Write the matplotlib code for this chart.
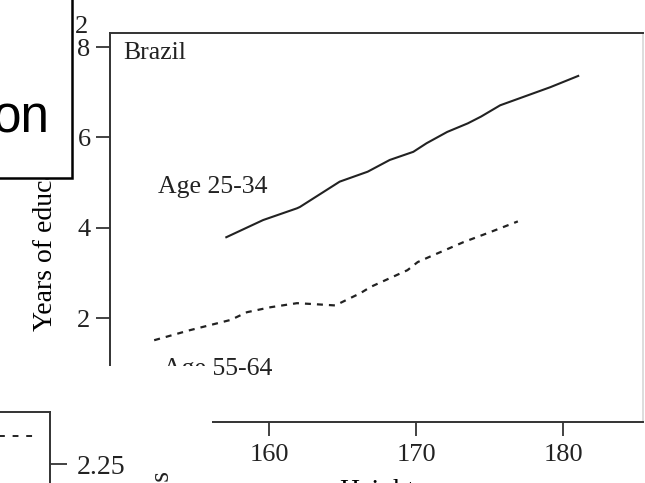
import matplotlib
matplotlib.use('Agg')
import matplotlib.pyplot as plt
from matplotlib.patches import Rectangle

plt.rcParams['font.family'] = 'Liberation Serif'

W, H = 645, 483

# Brazil panel: years of education by height
young_height = [157.1, 159.6, 161.9, 162.1, 164.8, 166.7, 168.2, 169.8, 170.7,
                172.1, 173.5, 174.4, 175.7, 179.1, 181.0]
young_educ = [3.79, 4.17, 4.43, 4.46, 5.02, 5.24, 5.50, 5.68, 5.87,
              6.12, 6.31, 6.46, 6.71, 7.11, 7.36]
old_height = [152.2, 154.6, 157.4, 158.5, 160.1, 161.9, 163.0, 164.5, 165.5,
              166.2, 166.9, 169.4, 170.1, 171.0, 173.2, 175.0, 176.9]
old_educ = [1.51, 1.73, 1.96, 2.13, 2.24, 2.33, 2.31, 2.28, 2.44,
            2.55, 2.69, 3.06, 3.24, 3.37, 3.68, 3.90, 4.14]
height_ticks = [160, 170, 180]
educ_ticks = [2, 4, 6, 8]

# scraps of the neighbouring panel that peek in at the bottom left
side_x = [7.0, 9.2]
side_y = [2.33, 2.33]
side_ticks = [2.25]

ink = '#222222'


def px(x0, y0, x1, y1):
    # pixel box (origin top left) -> figure fraction rect
    return [x0 / W, 1 - y1 / H, (x1 - x0) / W, (y1 - y0) / H]


fig = plt.figure(figsize=(W / 100, H / 100), dpi=100)

ax = fig.add_axes(px(110, 33, 643, 422))
ax.plot(young_height, young_educ, color=ink, lw=1.5)
ax.plot(old_height, old_educ, color=ink, lw=1.6, ls=(0, (2.7, 2.7)))
ax.set_xlim(149.2, 185.4)
ax.set_ylim(-0.3, 8.31)
ax.set_xticks(height_ticks)
ax.set_yticks(educ_ticks)
ax.tick_params(direction='out', length=10, width=1.2, labelsize=19, colors=ink)
ax.tick_params(axis='x', pad=6)
ax.tick_params(axis='y', pad=4)
for s in ax.spines.values():
    s.set_color('#333333')
    s.set_linewidth(1.4)
ax.spines['right'].set_color('#dddddd')
ax.set_xlabel('Height', fontsize=20, labelpad=9)
ax.set_ylabel('Years of education', fontsize=20, labelpad=14)
ax.text(150.07, 7.87, 'Brazil', fontsize=18.5, va='center', color=ink)
ax.text(152.45, 4.77, 'Age 25-34', fontsize=18.5, va='baseline', color=ink)
ax.text(152.79, 0.74, 'Age 55-64', fontsize=18.5, va='baseline', color=ink)

# white paper over the lower left corner
fig.add_artist(Rectangle((0, 0), 212 / W, (H - 366) / H, transform=fig.transFigure,
                         facecolor='white', edgecolor='none', zorder=2))

side = fig.add_axes(px(-150, 412, 50, 551), zorder=3)
side.plot(side_x, side_y, color=ink, lw=1.4, ls=(0, (3, 4)))
side.set_xlim(0, 10)
side.set_ylim(2.0, 2.4)
side.set_xticks([])
side.set_yticks(side_ticks)
side.set_yticklabels(['2.25'])
side.yaxis.tick_right()
side.tick_params(direction='out', length=12, width=1.2, labelsize=20, pad=7, colors=ink)
side.spines['left'].set_visible(False)
side.spines['bottom'].set_visible(False)
for s in ['top', 'right']:
    side.spines[s].set_color('#333333')
    side.spines[s].set_linewidth(1.4)
fig.text(162 / W, 1 - 470 / H, 'Years', rotation=90, ha='center', va='top',
         fontsize=20, color=ink, zorder=4)

# stray tick label at the top
fig.text(88 / W, 1 - 33 / H, '2', ha='right', va='baseline', fontsize=19, color=ink, zorder=1)

# boxed caption pasted over the top left
fig.add_artist(Rectangle((-10 / W, 1 - 178 / H), 82 / W, 188 / H, transform=fig.transFigure,
                         facecolor='white', edgecolor='black', lw=1.8, zorder=5))
fig.text(50 / W, 1 - 132 / H, 'on', ha='right', va='baseline', fontsize=37,
         family='Liberation Sans', color='black', zorder=6)

fig.savefig('out.png', dpi=100)
